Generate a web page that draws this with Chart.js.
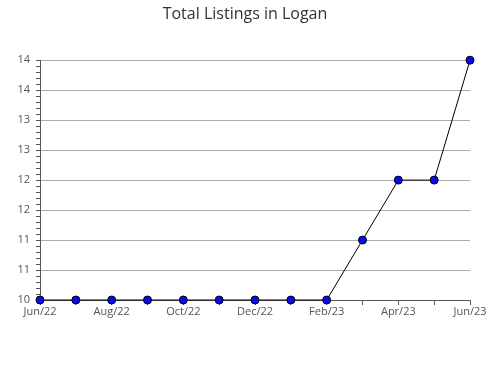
<!DOCTYPE html>
<html>
<head>
<meta charset="utf-8">
<script src="https://cdn.jsdelivr.net/npm/chart.js@4"></script>
<style>
  html, body { margin: 0; padding: 0; background: #fff; }
</style>
</head>
<body>
<canvas id="chart" width="490" height="380"></canvas>
<script>
// Données
const MONTHS = ["Jun/22", "Jul/22", "Aug/22", "Sep/22", "Oct/22", "Nov/22", "Dec/22",
  "Jan/23", "Feb/23", "Mar/23", "Apr/23", "May/23", "Jun/23"];
const LISTINGS = [10, 10, 10, 10, 10, 10, 10, 10, 10, 11, 12, 12, 14];
const Y_MIN = 10;
const Y_MAX = 14;

const AXIS_COLOR = "#555555";
const GRID_COLOR = "#aaaaaa";
const LABEL_COLOR = "#555555";
const FONT = "'Open Sans', sans-serif";

const ctx = document.getElementById("chart").getContext("2d");

new Chart(ctx, {
  type: "line",
  data: {
    labels: MONTHS,
    datasets: [
      {
        data: LISTINGS,
        borderColor: "#000000",
        borderWidth: 1,
        backgroundColor: "#0a0af0",
        pointBackgroundColor: "#0a0af0",
        pointBorderColor: "#000000",
        pointBorderWidth: 1,
        pointRadius: 4,
        tension: 0,
        clip: false
      }
    ]
  },
  options: {
    responsive: false,
    animation: false,
    layout: { padding: 0 },
    scales: {
      x: {
        type: "category",
        offset: false,
        grid: {
          drawOnChartArea: false,
          drawTicks: true,
          tickLength: 5,
          color: AXIS_COLOR
        },
        border: { display: true, color: AXIS_COLOR, width: 1 },
        ticks: {
          autoSkip: false,
          maxRotation: 0,
          padding: 0,
          color: LABEL_COLOR,
          font: { size: 11, family: FONT },
          callback: (value, index) => (index % 2 === 0 ? MONTHS[index] : "")
        },
        // marge droite fixe : le dernier point tombe à x=470
        afterFit: (scale) => { scale.height = 80; scale.paddingRight = 20; }
      },
      y: {
        min: Y_MIN,
        max: Y_MAX,
        weight: 1,
        grid: { color: GRID_COLOR, drawTicks: false },
        border: { display: false },
        ticks: {
          stepSize: 0.5,
          padding: 6,
          color: LABEL_COLOR,
          font: { size: 11, family: FONT },
          callback: (value) => Math.round(value)
        },
        afterFit: (scale) => { scale.width = 36; }
      },
      yMinor: {
        position: "left",
        min: Y_MIN,
        max: Y_MAX,
        weight: 0,
        grid: {
          drawOnChartArea: false,
          drawTicks: true,
          tickLength: 4,
          color: AXIS_COLOR
        },
        border: { display: true, color: AXIS_COLOR, width: 1 },
        ticks: { stepSize: 0.1, display: false },
        afterFit: (scale) => { scale.width = 4; }
      }
    },
    plugins: {
      legend: { display: false },
      tooltip: { enabled: false },
      title: {
        display: true,
        text: "Total Listings in Logan",
        color: "#333333",
        font: { size: 16, family: FONT, weight: "normal" },
        padding: { top: 5, bottom: 36 }
      }
    }
  }
});
</script>
</body>
</html>
